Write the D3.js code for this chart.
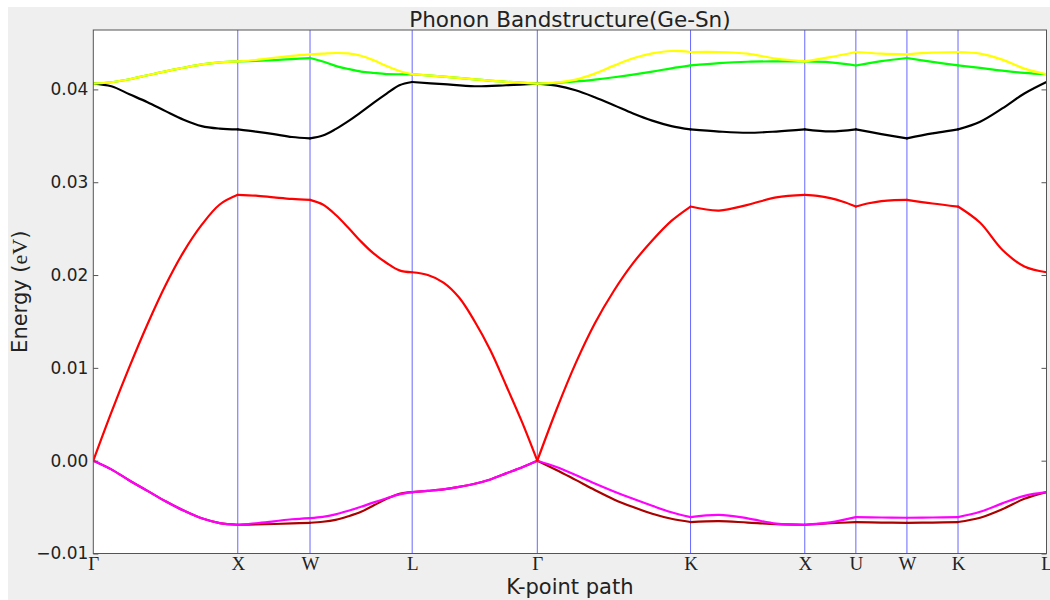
<!DOCTYPE html>
<html>
<head>
<meta charset="utf-8">
<script src="https://cdn.jsdelivr.net/npm/d3@7"></script>
<style>
  html, body { margin: 0; padding: 0; background: #ffffff; }
  svg { display: block; }
</style>
</head>
<body>
<svg id="chart" width="1050" height="600"></svg>
<script>
// High-symmetry points along the FCC path (cumulative |k| in units of 2π/a)
const kTicks  = [0, 1.0, 1.5, 2.2071, 3.0731, 4.1338, 4.9244, 5.2780, 5.6315, 5.9851, 6.5975];
const kLabels = ["Γ", "X", "W", "L", "Γ", "K", "X", "U", "W", "K", "L"];
const energyTicks = [-0.01, 0.00, 0.01, 0.02, 0.03, 0.04];

// Phonon branches (eV); one list per path segment, samples evenly spaced along it
const bandTA1 = [
  [0, -0.00094, -0.00213, -0.00325, -0.00438, -0.00538, -0.00621, -0.00672, -0.00690],
  [-0.00690, -0.00687, -0.00682, -0.00676, -0.00669],
  [-0.00669, -0.00658, -0.00637, -0.00599, -0.00551, -0.00481, -0.00411, -0.00357, -0.00339],
  [-0.00339, -0.00325, -0.00309, -0.00282, -0.00248, -0.00202, -0.00137, -0.00073, 0],
  [0, -0.00100, -0.00207, -0.00315, -0.00417, -0.00500, -0.00572, -0.00626, -0.00661],
  [-0.00661, -0.00651, -0.00667, -0.00683, -0.00690],
  [-0.00690, -0.00674, -0.00661],
  [-0.00661, -0.00667, -0.00669],
  [-0.00669, -0.00667, -0.00661],
  [-0.00661, -0.00615, -0.00524, -0.00411, -0.00339]
];
const bandTA2 = [
  [0, -0.00094, -0.00213, -0.00325, -0.00438, -0.00538, -0.00621, -0.00672, -0.00690],
  [-0.00690, -0.00674, -0.00653, -0.00631, -0.00618],
  [-0.00618, -0.00605, -0.00578, -0.00540, -0.00497, -0.00449, -0.00404, -0.00363, -0.00339],
  [-0.00339, -0.00325, -0.00309, -0.00282, -0.00248, -0.00202, -0.00137, -0.00073, 0],
  [0, -0.00068, -0.00154, -0.00245, -0.00331, -0.00411, -0.00486, -0.00556, -0.00608],
  [-0.00608, -0.00583, -0.00621, -0.00678, -0.00690],
  [-0.00690, -0.00664, -0.00608],
  [-0.00608, -0.00612, -0.00615],
  [-0.00615, -0.00612, -0.00608],
  [-0.00608, -0.00551, -0.00460, -0.00379, -0.00339]
];
const bandLA = [
  [0, 0.00520, 0.01010, 0.01470, 0.01890, 0.02250, 0.02540, 0.02760, 0.02864],
  [0.02864, 0.02855, 0.02837, 0.02820, 0.02810],
  [0.02810, 0.02760, 0.02650, 0.02510, 0.02360, 0.02230, 0.02130, 0.02050, 0.02030],
  [0.02030, 0.02000, 0.01919, 0.01758, 0.01500, 0.01189, 0.00813, 0.00426, 0],
  [0, 0.00549, 0.01048, 0.01478, 0.01831, 0.02128, 0.02372, 0.02583, 0.02738],
  [0.02738, 0.02695, 0.02756, 0.02837, 0.02864],
  [0.02864, 0.02853, 0.02828, 0.02789, 0.02738],
  [0.02738, 0.02773, 0.02797, 0.02808, 0.02810],
  [0.02810, 0.02771, 0.02738],
  [0.02738, 0.02563, 0.02273, 0.02091, 0.02030]
];
const bandOpt1 = [
  [0.04063, 0.04034, 0.03948, 0.03862, 0.03766, 0.03674, 0.03605, 0.03578, 0.03569],
  [0.03569, 0.03546, 0.03519, 0.03487, 0.03473],
  [0.03473, 0.03503, 0.03572, 0.03658, 0.03755, 0.03857, 0.03954, 0.04045, 0.04080],
  [0.04080, 0.04056, 0.04034, 0.04045, 0.04063],
  [0.04063, 0.04040, 0.03991, 0.03916, 0.03830, 0.03741, 0.03664, 0.03605, 0.03569],
  [0.03569, 0.03546, 0.03533, 0.03546, 0.03569],
  [0.03569, 0.03547, 0.03569],
  [0.03569, 0.03519, 0.03473],
  [0.03473, 0.03526, 0.03569],
  [0.03569, 0.03652, 0.03795, 0.03956, 0.04080]
];
const bandOpt2 = [
  [0.04063, 0.04077, 0.04109, 0.04152, 0.04195, 0.04233, 0.04270, 0.04292, 0.04302],
  [0.04302, 0.04308, 0.04316, 0.04327, 0.04338],
  [0.04338, 0.04300, 0.04254, 0.04220, 0.04192, 0.04177, 0.04165, 0.04163, 0.04163],
  [0.04163, 0.04138, 0.04109, 0.04082, 0.04063],
  [0.04063, 0.04071, 0.04085, 0.04106, 0.04131, 0.04160, 0.04192, 0.04227, 0.04258],
  [0.04258, 0.04283, 0.04298, 0.04302, 0.04302],
  [0.04302, 0.04292, 0.04258],
  [0.04258, 0.04305, 0.04338],
  [0.04338, 0.04296, 0.04258],
  [0.04258, 0.04231, 0.04202, 0.04178, 0.04163]
];
const bandOpt3 = [
  [0.04063, 0.04077, 0.04109, 0.04152, 0.04195, 0.04233, 0.04270, 0.04292, 0.04302],
  [0.04302, 0.04317, 0.04340, 0.04362, 0.04378],
  [0.04378, 0.04385, 0.04392, 0.04388, 0.04363, 0.04313, 0.04252, 0.04198, 0.04163],
  [0.04163, 0.04138, 0.04109, 0.04082, 0.04063],
  [0.04063, 0.04074, 0.04106, 0.04170, 0.04256, 0.04335, 0.04388, 0.04414, 0.04403],
  [0.04403, 0.04403, 0.04385, 0.04331, 0.04302],
  [0.04302, 0.04348, 0.04403],
  [0.04403, 0.04385, 0.04378],
  [0.04378, 0.04396, 0.04403],
  [0.04403, 0.04385, 0.04321, 0.04224, 0.04163]
];

const bandColors = ["#aa0000", "#ff00ff", "#ff0000", "#000000", "#00ff00", "#ffff00"];
const bands = [bandTA1, bandTA2, bandLA, bandOpt1, bandOpt2, bandOpt3];

const svg = d3.select("#chart");
const W = 1050, H = 600;
const plot = { left: 93.3, right: 1046.5, top: 30, bottom: 553.5 };

// figure background
svg.append("rect").attr("x", 8).attr("y", 7).attr("width", W - 8).attr("height", H - 7)
  .attr("fill", "#efefef");
svg.append("rect").attr("x", plot.left).attr("y", plot.top)
  .attr("width", plot.right - plot.left).attr("height", plot.bottom - plot.top)
  .attr("fill", "#ffffff");

const x = d3.scaleLinear().domain([kTicks[0], kTicks[kTicks.length - 1]]).range([plot.left, plot.right]);
const y = d3.scaleLinear().domain([-0.01, 0.0464]).range([plot.bottom, plot.top]);

svg.append("clipPath").attr("id", "plotClip").append("rect")
  .attr("x", plot.left).attr("y", plot.top)
  .attr("width", plot.right - plot.left).attr("height", plot.bottom - plot.top);

const body = svg.append("g").attr("clip-path", "url(#plotClip)");

// vertical markers at high-symmetry points
body.selectAll("line.kline").data(kTicks.slice(1, -1)).enter().append("line")
  .attr("class", "kline")
  .attr("x1", d => x(d)).attr("x2", d => x(d))
  .attr("y1", plot.top).attr("y2", plot.bottom)
  .attr("stroke", "#0000ff").attr("stroke-opacity", 0.6).attr("stroke-width", 1);

// branches, drawn segment by segment so kinks at the symmetry points stay sharp
const line = d3.line().x(d => x(d[0])).y(d => y(d[1])).curve(d3.curveCatmullRom.alpha(0.5));
bands.forEach((band, b) => {
  const g = body.append("g");
  band.forEach((vals, s) => {
    const k0 = kTicks[s], k1 = kTicks[s + 1];
    const pts = vals.map((v, i) => [k0 + (k1 - k0) * i / (vals.length - 1), v]);
    g.append("path").attr("d", line(pts))
      .attr("fill", "none").attr("stroke", bandColors[b])
      .attr("stroke-width", 2.2).attr("stroke-linejoin", "round").attr("stroke-linecap", "round");
  });
});

// frame
svg.append("rect").attr("x", plot.left).attr("y", plot.top)
  .attr("width", plot.right - plot.left).attr("height", plot.bottom - plot.top)
  .attr("fill", "none").attr("stroke", "#555").attr("stroke-width", 1);

// y axis (ticks pointing inward)
const yAxis = d3.axisLeft(y).tickValues(energyTicks).tickFormat(d3.format(".2f"))
  .tickSize(-5).tickPadding(5);
const gy = svg.append("g").attr("transform", `translate(${plot.left},0)`).call(yAxis);
gy.select(".domain").remove();
gy.selectAll(".tick line").attr("stroke", "#555");
gy.selectAll(".tick text").attr("font-family", "DejaVu Sans").attr("font-size", 17).attr("fill", "#222");

const yAxisR = d3.axisRight(y).tickValues(energyTicks).tickFormat("").tickSize(-5);
const gyr = svg.append("g").attr("transform", `translate(${plot.right},0)`).call(yAxisR);
gyr.select(".domain").remove();
gyr.selectAll(".tick line").attr("stroke", "#555");

// x axis with high-symmetry labels
const xAxis = d3.axisBottom(x).tickValues(kTicks).tickFormat((d, i) => kLabels[i])
  .tickSize(0).tickPadding(3);
const gx = svg.append("g").attr("transform", `translate(0,${plot.bottom})`).call(xAxis);
gx.select(".domain").remove();
gx.selectAll(".tick text").attr("font-family", "Liberation Serif").attr("font-size", 19).attr("fill", "#222");

// titles
svg.append("text").attr("x", (plot.left + plot.right) / 2).attr("y", 26.5)
  .attr("text-anchor", "middle").attr("font-family", "DejaVu Sans").attr("font-size", 21.5)
  .attr("fill", "#222").text("Phonon Bandstructure(Ge-Sn)");

svg.append("text").attr("x", (plot.left + plot.right) / 2).attr("y", 594)
  .attr("text-anchor", "middle").attr("font-family", "DejaVu Sans").attr("font-size", 21)
  .attr("fill", "#222").text("K-point path");

const ylab = svg.append("text")
  .attr("transform", `translate(27,${(plot.top + plot.bottom) / 2}) rotate(-90)`)
  .attr("text-anchor", "middle").attr("font-family", "DejaVu Sans").attr("font-size", 21)
  .attr("fill", "#222");
ylab.append("tspan").text("Energy (");
ylab.append("tspan").attr("font-family", "Liberation Serif").attr("font-size", 22).text("eV");
ylab.append("tspan").text(")");
</script>
</body>
</html>
